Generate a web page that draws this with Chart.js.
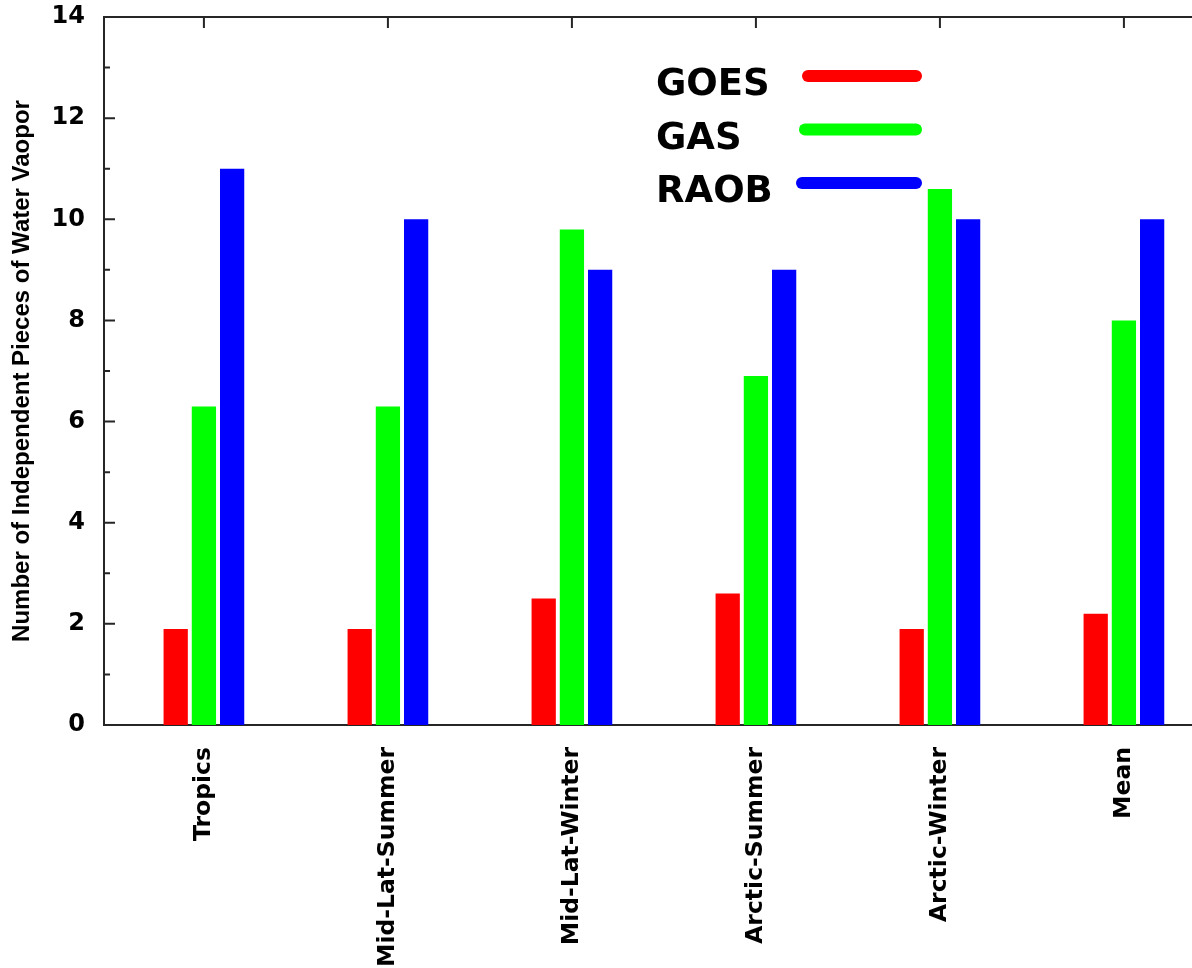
<!DOCTYPE html>
<html>
<head>
<meta charset="utf-8">
<script src="https://cdn.jsdelivr.net/npm/chart.js@4/dist/chart.umd.min.js"></script>
<style>
	body { margin: 0; background: #fff; }
	canvas { display: block; }
</style>
</head>
<body>
<canvas id="chart" width="1192" height="968"></canvas>
<script>
const categories = ["Tropics", "Mid-Lat-Summer", "Mid-Lat-Winter", "Arctic-Summer", "Arctic-Winter", "Mean"];
const goes = [1.9, 1.9, 2.5, 2.6, 1.9, 2.2];
const gas = [6.3, 6.3, 9.8, 6.9, 10.6, 8.0];
const raob = [11, 10, 9, 9, 10, 10];
const yTicks = [0, 2, 4, 6, 8, 10, 12, 14];

const axisColor = "#262626";

// gnuplot-style frame with inward ticks
const framePlugin = {
	id: "frame",
	beforeDatasetsDraw(chart) {
		const ctx = chart.ctx;
		const a = chart.chartArea;
		const x = chart.scales.x;
		const y = chart.scales.y;
		ctx.save();
		ctx.strokeStyle = axisColor;
		ctx.lineWidth = 2;
		ctx.beginPath();
		ctx.moveTo(a.right, a.top);
		ctx.lineTo(a.left, a.top);
		ctx.lineTo(a.left, a.bottom);
		ctx.lineTo(a.right, a.bottom);
		for (let v = 0; v <= 14; v++) {
			const py = y.getPixelForValue(v);
			const len = v % 2 === 0 ? 11 : 6;
			ctx.moveTo(a.left, py);
			ctx.lineTo(a.left + len, py);
		}
		categories.forEach((c, i) => {
			const px = x.getPixelForValue(i);
			ctx.moveTo(px, a.top);
			ctx.lineTo(px, a.top + 11);
			ctx.moveTo(px, a.bottom);
			ctx.lineTo(px, a.bottom - 11);
		});
		ctx.stroke();
		ctx.restore();
	},
};

const legendPlugin = {
	id: "keyBox",
	afterDraw(chart) {
		const ctx = chart.ctx;
		ctx.save();
		ctx.font = "bold 37px 'DejaVu Sans'";
		ctx.textBaseline = "alphabetic";
		ctx.lineCap = "round";
		ctx.lineWidth = 12;
		chart.data.datasets.forEach((ds, i) => {
			const base = 95 + i * 53.5;
			ctx.fillStyle = "#000";
			ctx.fillText(ds.label, 656, base);
			ctx.strokeStyle = ds.backgroundColor;
			ctx.beginPath();
			ctx.moveTo(808 - i * 3, base - 19);
			ctx.lineTo(916, base - 19);
			ctx.stroke();
		});
		ctx.restore();
	},
};

const toPoints = (arr) => arr.map((v, i) => ({ x: i, y: v }));

const data = {
	datasets: [
		{ label: "GOES", data: toPoints(goes), backgroundColor: "#ff0000" },
		{ label: "GAS", data: toPoints(gas), backgroundColor: "#00ff00" },
		{ label: "RAOB", data: toPoints(raob), backgroundColor: "#0000ff" },
	],
};

const config = {
	type: "bar",
	data: data,
	options: {
		responsive: false,
		animation: false,
		devicePixelRatio: 1,
		categoryPercentage: 0.46,
		barPercentage: 0.86,
		layout: { padding: { top: 17, right: 0, left: 0, bottom: 0 } },
		scales: {
			x: {
				type: "linear",
				offset: false,
				min: -0.543,
				max: 5.37,
				grid: { display: false, drawTicks: false },
				border: { display: false },
				afterBuildTicks: (s) => { s.ticks = categories.map((c, i) => ({ value: i })); },
				afterFit: (s) => {
					s.height = 243;
					s.paddingLeft = 0;
					s.paddingRight = 0;
				},
				ticks: {
					autoSkip: false,
					minRotation: 90,
					maxRotation: 90,
					padding: 22,
					color: "#000",
					font: { family: "DejaVu Sans", weight: "bold", size: 23.5 },
					callback: (v) => categories[v] ?? "",
				},
			},
			y: {
				min: 0,
				max: 14,
				grid: { display: false, drawTicks: false },
				border: { display: false },
				afterBuildTicks: (s) => { s.ticks = yTicks.map((v) => ({ value: v })); },
				afterFit: (s) => {
					s.width = 104;
					s.paddingTop = 0;
					s.paddingBottom = 0;
				},
				ticks: {
					padding: 19,
					color: "#000",
					font: { family: "DejaVu Sans", weight: "bold", size: 24 },
				},
				title: {
					display: true,
					text: "Number of Independent Pieces of Water Vaopor",
					color: "#000",
					padding: { top: 8, bottom: 0 },
					font: { family: "Liberation Sans", weight: "bold", size: 24 },
				},
			},
		},
		plugins: {
			legend: { display: false },
			tooltip: { enabled: false },
		},
	},
	plugins: [framePlugin, legendPlugin],
};

const bar_chart = new Chart(document.getElementById("chart"), config);
</script>
</body>
</html>
